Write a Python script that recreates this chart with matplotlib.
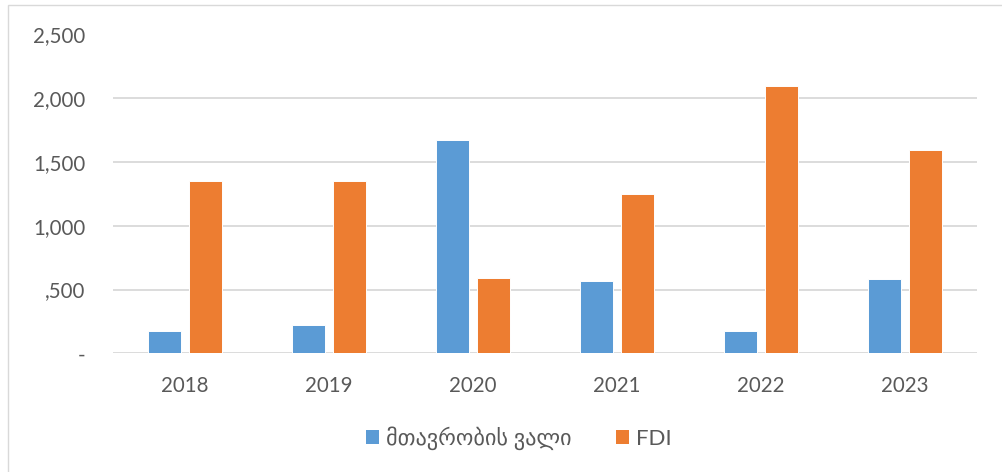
import matplotlib
matplotlib.use("Agg")
import matplotlib.pyplot as plt
import numpy as np
from matplotlib.patches import Rectangle

years = ["2018", "2019", "2020", "2021", "2022", "2023"]
gov_debt = [172, 222, 1670, 570, 175, 585]
fdi = [1348, 1354, 594, 1250, 2098, 1595]
series_names = ["მთავრობის ვალი", "FDI"]
ytick_vals = [0, 500, 1000, 1500, 2000, 2500]
ytick_labels = ["-", ",500", "1,000", "1,500", "2,000", "2,500"]

W, H = 1002, 472
fig = plt.figure(figsize=(W / 100, H / 100), dpi=100)
fig.patch.set_facecolor("white")

# outer chart border
fig.add_artist(Rectangle((8 / W, -0.1), 1.2, 1 - 5 / H + 0.1, transform=fig.transFigure,
                         fill=False, edgecolor="#D9D9D9", linewidth=1.0))

left, right = 113 / W, 977 / W
bottom, top = 1 - 353.3 / H, 1 - 34.5 / H
ax = fig.add_axes([left, bottom, right - left, top - bottom])

x = np.arange(len(years))
bw = 0.232
off = 0.1424
blue = "#5B9BD5"
orange = "#ED7D31"
ax.bar(x - off, gov_debt, bw, color=blue, edgecolor="white", linewidth=0.7, label=series_names[0], zorder=3)
ax.bar(x + off, fdi, bw, color=orange, edgecolor="white", linewidth=0.7, label=series_names[1], zorder=3)

ax.set_xlim(-0.5, len(years) - 0.5)
ax.set_ylim(0, 2500)
ax.set_yticks(ytick_vals)
ax.set_yticklabels(ytick_labels)
ax.set_xticks(x)
ax.set_xticklabels(years)
ax.yaxis.grid(True, color="#D9D9D9", linewidth=1.3, zorder=0)
ax.set_axisbelow(True)
for s in ["top", "right", "left", "bottom"]:
    ax.spines[s].set_visible(False)
ax.tick_params(axis="both", length=0, colors="#595959")
ax.tick_params(axis="x", pad=16)
ax.tick_params(axis="y", pad=20)
for lab in ax.get_xticklabels() + ax.get_yticklabels():
    lab.set_fontfamily(["Lato", "DejaVu Sans"])
    lab.set_fontsize(14.8)
    lab.set_color("#595959")

leg = fig.legend(loc="center", bbox_to_anchor=(0.5175, 1 - 438 / H), ncol=2, frameon=False,
                 prop={"family": ["Lato", "DejaVu Sans"], "size": 16},
                 handlelength=0.6, handleheight=0.6, handletextpad=0.3, columnspacing=2.0)
for t in leg.get_texts():
    t.set_color("#595959")
for h in leg.legend_handles:
    h.set_edgecolor("none")

fig.savefig("out.png", dpi=100, facecolor="white")
